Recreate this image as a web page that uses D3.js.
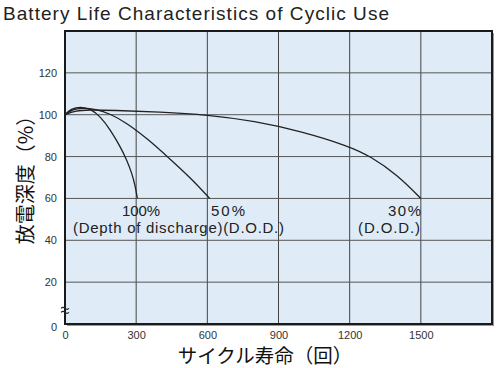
<!DOCTYPE html>
<html><head><meta charset="utf-8">
<script src="https://cdn.jsdelivr.net/npm/d3@7"></script>
<style>body{margin:0;background:#fff}svg{display:block}</style>
</head><body>
<script>
const xTicks = [0, 300, 600, 900, 1200, 1500];
const yTicks = [0, 20, 40, 60, 80, 100, 120];
const seriesNames = ["100%", "50%", "30%"];
const dod100 = [[0,100],[25,102.8],[65,103.9],[110,102.8],[150,99],[190,93],[232,85],[260,78.5],[282,72],[296,66],[305,60]];
const dod50 = [[0,100],[30,102.4],[70,103.3],[130,102.7],[190,100.5],[261,96],[350,88.3],[443,78.8],[530,69.8],[610,60]];
const dod30 = [[0,100],[40,101.8],[100,102.4],[200,102.1],[400,101.3],[600,100],[800,97],[991,92.2],[1197,85],[1286,80.2],[1400,71.4],[1500,60]];
const title = "Battery Life Characteristics of Cyclic Use";
const xLabel = "サイクル寿命（回）";
const yLabel = "放電深度（%）";

const W = 500, H = 368;
const m = {l: 65, r: 8, t: 31, b: 44};
const svg = d3.select("body").append("svg").attr("width", W).attr("height", H);
const x = d3.scaleLinear().domain([0, 1800]).range([m.l, W - m.r]);
const y = d3.scaleLinear().domain([0, 140]).range([H - m.b, m.t]);
const font = "'Liberation Sans', Arial, sans-serif";

svg.append("text").attr("x", 3).attr("y", 20).attr("font-family", font)
  .attr("font-size", 19).attr("fill", "#222")
  .attr("textLength", 386).attr("lengthAdjust", "spacing").text(title);

// shadow
svg.append("rect").attr("x", x(0) + 2).attr("y", y(140) + 2)
  .attr("width", x(1800) - x(0)).attr("height", y(0) - y(140))
  .attr("fill", "#999");
svg.append("rect").attr("x", x(0)).attr("y", y(140))
  .attr("width", x(1800) - x(0)).attr("height", y(0) - y(140))
  .attr("fill", "#dfecf8");

// grid
const g = svg.append("g");
g.selectAll(".vg").data(xTicks.slice(1)).join("line")
  .attr("x1", d => x(d)).attr("x2", d => x(d)).attr("y1", y(0)).attr("y2", y(140))
  .attr("stroke", "#444").attr("stroke-width", 1);
g.selectAll(".hg").data(yTicks.slice(1)).join("line")
  .attr("x1", x(0)).attr("x2", x(1800)).attr("y1", d => y(d)).attr("y2", d => y(d))
  .attr("stroke", "#555").attr("stroke-width", 1);

// frame
svg.append("rect").attr("x", x(0)).attr("y", y(140))
  .attr("width", x(1800) - x(0)).attr("height", y(0) - y(140))
  .attr("fill", "none").attr("stroke", "#1a1a1a").attr("stroke-width", 2);

// axes labels via d3 axes
const xAxis = svg.append("g").attr("transform", `translate(0,${y(0)})`)
  .call(d3.axisBottom(x).tickValues(xTicks).tickFormat(d3.format("d")).tickSize(0).tickPadding(7));
const yAxis = svg.append("g").attr("transform", `translate(${x(0)},0)`)
  .call(d3.axisLeft(y).tickValues(yTicks).tickFormat(d3.format("d")).tickSize(0).tickPadding(8));
[xAxis, yAxis].forEach(a => {
  a.select(".domain").remove();
  a.selectAll("text").attr("font-family", font).attr("font-size", 11).attr("fill", "#333");
});
yAxis.selectAll("text").filter(d => d === 0).attr("dy", "0.6em");

// axis break marker
const bk = svg.append("g").attr("stroke", "#222").attr("fill", "none").attr("stroke-width", 1.1);
[-2, 2].forEach(o => {
  bk.append("path").attr("d", `M${x(0)-4},${y(7)+o+1} q2,-2 4,0 q2,2 4,0`);
});

// curves
const line = d3.line().x(d => x(d[0])).y(d => y(d[1])).curve(d3.curveBasis);
const cg = svg.append("g").attr("fill", "none").attr("stroke", "#222").attr("stroke-width", 1.3);
[dod100, dod50, dod30].forEach(s => cg.append("path").attr("d", line(s)));

// annotations
const ann = svg.append("g").attr("font-family", font).attr("font-size", 15).attr("fill", "#222");
ann.append("text").attr("x", 122).attr("y", y(60) + 18).attr("textLength", 38).attr("lengthAdjust", "spacing").text(seriesNames[0]);
ann.append("text").attr("x", 73).attr("y", y(60) + 35).attr("textLength", 211).attr("lengthAdjust", "spacing").text("(Depth of discharge)(D.O.D.)");
ann.append("text").attr("x", 211).attr("y", y(60) + 18).attr("textLength", 34).attr("lengthAdjust", "spacing").text(seriesNames[1]);
ann.append("text").attr("x", 388).attr("y", y(60) + 18).attr("textLength", 33).attr("lengthAdjust", "spacing").text(seriesNames[2]);
ann.append("text").attr("x", 358).attr("y", y(60) + 35).attr("textLength", 62).attr("lengthAdjust", "spacing").text("(D.O.D.)");

// axis titles
svg.append("text").attr("x", 265).attr("y", 363)
  .attr("text-anchor", "middle").attr("font-family", "'Noto Sans CJK JP', sans-serif")
  .attr("font-size", 19.5).attr("fill", "#111").text(xLabel);
svg.append("text").attr("transform", `translate(33,175)rotate(-90)`)
  .attr("text-anchor", "middle").attr("font-family", "'Noto Sans CJK JP', sans-serif")
  .attr("font-size", 20).attr("fill", "#111").text(yLabel);
</script>
</body></html>
